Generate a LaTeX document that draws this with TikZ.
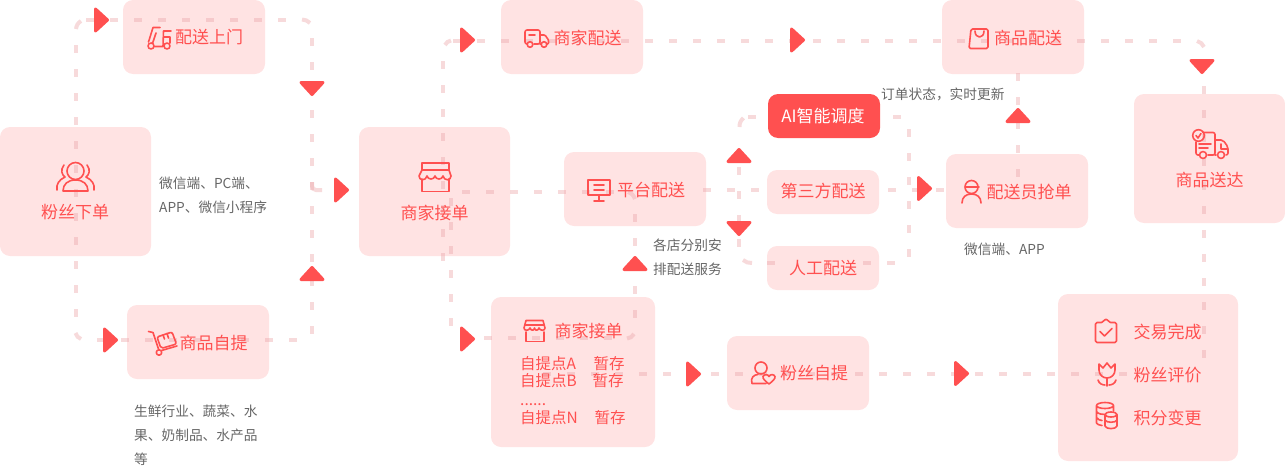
\documentclass[tikz,border=0pt]{standalone}
\usepackage{fontspec}
\setmainfont{Noto Sans CJK SC}
\usetikzlibrary{calc}
\definecolor{rd}{HTML}{FF5050}
\definecolor{bx}{HTML}{FFE3E3}
\definecolor{gy}{HTML}{666666}
\definecolor{dk}{HTML}{ECA9AC}
\tikzset{
 x=1pt,y=-1pt,
 box/.style={fill=bx,rounded corners=10pt,inner sep=0pt},
 aibox/.style={box,fill=rd},
 dl/.style={draw=dk,opacity=.43,line width=4pt,dash pattern=on 8pt off 16pt},
 dc/.style={draw=dk,opacity=.43,line width=4pt},
 lab/.style={text=rd,font=\fontsize{17}{20}\selectfont,inner sep=0pt},
 lab2/.style={text=rd,font=\fontsize{15.5}{18}\selectfont,inner sep=0pt,anchor=west},
 note/.style={text=gy,font=\fontsize{13.7}{24}\selectfont,inner sep=0pt,anchor=west,align=left},
 tip/.style={fill=rd,draw=rd,line width=3pt,line join=round},
 ic/.style={draw=rd,line width=1.6pt,line cap=round,line join=round,fill=none},
}
\newcommand{\tipR}[2]{\path[tip] (#1+1.5,#2-11) -- (#1+13.5,#2) -- (#1+1.5,#2+11) -- cycle;}
\newcommand{\tipU}[2]{\path[tip] (#1-11,#2+14.5) -- (#1,#2+2.5) -- (#1+11,#2+14.5) -- cycle;}
\newcommand{\tipD}[2]{\path[tip] (#1-11,#2+1.5) -- (#1,#2+13.5) -- (#1+11,#2+1.5) -- cycle;}
\newcommand{\boxat}[6]{\node[#1,minimum width=#4pt-#2pt,minimum height=#5pt-#3pt] (#6) at ({(#2+#4)/2},{(#3+#5)/2}) {};}
\begin{document}
\begin{tikzpicture}
\useasboundingbox (0,0) rectangle (1285,466);
% boxes
\boxat{box}{0}{127}{151}{256}{fans}
\boxat{box}{123}{0}{265}{74}{door}
\boxat{box}{127}{305}{269}{379}{pick}
\boxat{box}{359}{127}{510}{256}{shop}
\boxat{box}{501}{0}{643}{74}{shopdel}
\boxat{box}{564}{152}{706}{226}{plat}
\boxat{aibox}{768}{94}{880}{138}{ai}
\boxat{box}{767}{170}{879}{214}{third}
\boxat{box}{767}{246}{879}{290}{manual}
\boxat{box}{491}{297}{655}{447}{shoptwo}
\boxat{box}{727}{336}{869}{410}{fanpick}
\boxat{box}{942}{0}{1084}{74}{goods}
\boxat{box}{946}{154}{1088}{228}{rider}
\boxat{box}{1134}{94}{1285}{223}{done}
\boxat{box}{1058}{294}{1238}{461}{finish}
% connector waypoints
\foreach \n/\a/\b in {a1/76/45,a2/76/317,a3/76/29,a4/81/21,a5/75.5/333,a6/81/339,a7/86/20,a8/286/20,a9/302/19.5,a10/310/23,
 b1/312/38,b2/312/334,b3/312/182,b4/322/190,b5/97/340,b6/297/340,
 c1/443/61,c2/443/261,c3/445/45,c4/451/40.5,c5/453/40.5,c6/1181/40.5,c7/1197/41,c8/1204/47,c9/1204/86,c10/1204/358,
 d1/451/198,d2/451/326,d3/462/192,d4/614/192,d5/628/192,d6/635/199,d7/635/214,d8/635/318,d9/627/338.5,d10/634/334,d11/484/338,d12/612/338,
 e1/703/189.5,e2/759/189.5,e3/888/189.5,e4/944/189.5,e5/739/167,e6/739/247,e7/739.5/127,e8/743.5/118,e9/748/116.5,e10/756/116.5,e11/893/116.5,e12/901/116.5,
 e13/909/129,e14/909/257,e15/743/260,e16/752/263,e17/767/263,e18/775/263,e19/863/263,e20/895/263,
 f1/1018/73,f2/1018/177,f3/543/373.5,f4/1127/373.5}
 {\coordinate (\n) at (\a,\b);}
% dashed connectors
\draw[dl] (a1)--(a2);
\draw[dc] (a3) to[bend left=25] (a4);
\draw[dc] (a5) to[bend right=25] (a6);
\draw[dl] (a7)--(a8);
\draw[dc] (a9) to[bend left=20] (a10);
\draw[dl] (b1)--(b2);
\draw[dc,rounded corners=4pt] (b3)--(b3|-b4)--(b4);
\draw[dl] (b5)--(b6);
\draw[dl] (c1)--(c2);
\draw[dc] (c3) to[bend left=25] (c4);
\draw[dl] (c5)--(c6);
\draw[dc] (c7) to[bend left=25] (c8);
\draw[dl] (c9)--(c10);
\draw[dl] (d1)--(d2);
\draw[dl] (d3)--(d4);
\draw[dc] (d5) to[bend left=25] (d6);
\draw[dl] (d7)--(d8);
\draw[dc] (d9) to[bend right=25] (d10);
\draw[dl] (d11)--(d12);
\draw[dl] (e1)--(e2);
\draw[dl] (e3)--(e4);
\draw[dl] (e5)--(e6);
\draw[dc] (e7) to[bend left=25] (e8);
\draw[dc] (e9)--(e10);
\draw[dc] (e11)--(e12);
\draw[dl] (e13)--(e14);
\draw[dc] (e15) to[bend right=20] (e16);
\draw[dc] (e17)--(e18);
\draw[dl] (e19)--(e20);
\draw[dl] (f1)--(f2);
\draw[dl] (f3)--(f4);
% arrow tips
\tipR{94}{20}\tipR{334}{190}\tipR{103}{340}\tipR{460}{40}\tipR{790}{40}\tipR{460}{339}\tipR{686}{374}\tipR{954}{373.5}\tipR{917}{188.5}
\tipD{312}{81}\tipU{312}{265}\tipU{635}{255}\tipU{739}{147}\tipD{739}{221}\tipU{1018}{107}\tipD{1202}{59}
% icons
% scooter
\draw[ic] (153,27.5)--(160,27.5) (153,27.5)--(148.5,42) (156,33)--(153,42)--(152,43) (154.5,46.5)--(163,46.5)--(163.5,31)--(171,31) (164,37)--(170,37)--(170,43);
\draw[ic] (151,46) circle (3) (167,46) circle (3);
% people
\draw[ic] (75.5,171) circle (8.5);
\draw[ic] (63,191)--(88,191) (63,191) .. controls (63,184) and (68,180) .. (75.5,180) .. controls (83,180) and (88,184) .. (88,191);
\draw[ic] (64,165) .. controls (60,170) and (62,175) .. (65,177) .. controls (59,180) and (56,184) .. (57,190);
\draw[ic] (87,165) .. controls (91,170) and (89,175) .. (86,177) .. controls (92,180) and (95,184) .. (94,190);
% cart
\draw[ic] (148.5,331.5)--(153,332.5)--(158.5,349) (161.5,350.5)--(177,346);
\draw[ic] (159,352.5) circle (2.7);
\draw[ic,rounded corners=2pt] (157,337)--(172,332)--(176.5,344)--(161,348.5)--cycle;
\draw[ic] (163,335)--(164.5,339) (167,333.5)--(168.5,338);
% store
\draw[ic] (422,163)--(449,163)--(449,170)--(422,170)--cycle;
\draw[ic] (422,170)--(419,176) .. controls (419,181) and (426,181) .. (427,176) .. controls (428,180) and (434,180) .. (435,176) .. controls (436,180) and (442,180) .. (443,176) .. controls (444,181) and (451,181) .. (451,176)--(449,170);
\draw[ic] (422,179)--(422,191.5)--(449,191.5)--(449,179);
% truck
\draw[ic,rounded corners=2pt] (527,44)--(525,44)--(525,30)--(540,30)--(540,44)--(534,44);
\draw[ic,rounded corners=1pt] (540,35)--(545,35)--(548.5,40)--(548.5,44)--(547,44) (541,44)--(540,44);
\draw[ic] (530,44.5) circle (2.8) (544,44.5) circle (2.8) (529,35)--(535,35);
% monitor
\draw[ic] (588,180)--(610,180)--(610,195)--(588,195)--cycle (594,185)--(604,185) (594,190)--(604,190) (599,195)--(599,201) (594,201)--(604,201);
% bag
\draw[ic,rounded corners=1.5pt] (971,29)--(988,29)--(988,48.5)--(969,48.5)--cycle;
\draw[ic] (975,31) .. controls (975,39) and (984,39) .. (984,31);
% rider
\draw[ic] (971.5,187) circle (6.5) (965,187)--(979,187);
\draw[ic] (962,203) .. controls (962,197) and (966,194) .. (971.5,194) .. controls (977,194) and (981,197) .. (981,203);
% delivered truck
\draw[ic] (1198.5,135.5) circle (5.8);
\draw[ic] (1196,135.5)--(1198,138)--(1201,133.5);
\draw[ic,rounded corners=2pt] (1203,132.5)--(1215,132.5)--(1215,155)--(1208,155) (1199,155)--(1196,155)--(1196,142);
\draw[ic,rounded corners=2pt] (1215,140)--(1223,140)--(1228,147)--(1228,155)--(1226,155) (1216,155)--(1215,155);
\draw[ic] (1203,155) circle (3.5) (1221,155) circle (3.5) (1199,144)--(1211,144) (1199,148)--(1208,148) (1221,144)--(1221,149)--(1227,149);
% person heart
\draw[ic] (761,368) circle (6);
\draw[ic] (752,383.5) .. controls (750,378) and (754,374.5) .. (758,374.5) (752,383.5)--(766,383.5);
\draw[ic] (769,384) .. controls (765,381) and (762.5,378.5) .. (763,376.5) .. controls (764,374) and (768,374) .. (769,376.5) .. controls (770,374) and (774,374) .. (775,376.5) .. controls (775.5,378.5) and (773,381) .. (769,384);
% clipboard
\draw[ic,rounded corners=1.5pt] (1100,322.5)--(1095.5,322.5)--(1095.5,342.5)--(1116.5,342.5)--(1116.5,322.5)--(1112,322.5)--(1109,322.5)--(1108,319.5)--(1104,319.5)--(1103,322.5)--cycle;
\draw[ic] (1100,331.5)--(1104.5,336)--(1112,328.5);
% tulip
\draw[ic] (1099,364)--(1103,368)--(1107,363)--(1111,368)--(1115,364)--(1115,370) .. controls (1115,375) and (1111,378) .. (1107,378) .. controls (1103,378) and (1099,375) .. (1099,370)--cycle;
\draw[ic] (1107,378)--(1107,386) (1098,380) .. controls (1099,384) and (1103,385) .. (1105,385) (1116,380) .. controls (1115,384) and (1111,385) .. (1109,385);
% coins
\draw[ic] (1105,405.5) ellipse (8.5 and 3) (1096.5,405.5)--(1096.5,423) .. controls (1097,424.5) and (1099,425) .. (1102,425.5) (1096.5,411.5) .. controls (1098,414) and (1102,414.5) .. (1105,414.5) (1096.5,417.5) .. controls (1098,420) and (1100,420) .. (1102,420.5) (1113.5,405.5)--(1113.5,411);
\draw[ic] (1111,414.5) ellipse (6 and 2.5) (1105,414.5)--(1105,426) .. controls (1106,429.5) and (1116,429.5) .. (1117,426)--(1117,414.5) (1105,420) .. controls (1106,423) and (1116,423) .. (1117,420);
% small store
\draw[ic] (526,320.5)--(543,320.5)--(545,328) .. controls (545,331) and (540,331) .. (539,328) .. controls (538,331) and (535,331) .. (534.5,328) .. controls (534,331) and (531,331) .. (530,328) .. controls (529,331) and (524,331) .. (524,328)--cycle (525,325)--(544,325);
\draw[ic] (526,332)--(526,341.5)--(544,341.5)--(544,332);
% labels
\node[lab] (tdoor) at (209,37.5) {配送上门};
\node[lab] (tfans) at (75,212.5) {粉丝下单};
\node[lab] (tpick) at (213.5,343) {商品自提};
\node[lab] (tshop) at (434.5,213) {商家接单};
\node[lab] (tshopdel) at (587.5,38) {商家配送};
\node[lab] (tplat) at (651,190) {平台配送};
\node[lab,text=white] (tai) at (823,115.5) {AI智能调度};
\node[lab] (tthird) at (823,191.5) {第三方配送};
\node[lab] (tmanual) at (823,268) {人工配送};
\node[lab] (trider) at (1029,192) {配送员抢单};
\node[lab] (tgoods) at (1028,38) {商品配送};
\node[lab] (tdone) at (1209.5,180) {商品送达};
\node[lab] (tf1) at (1167.5,332) {交易完成};
\node[lab] (tf2) at (1167.5,375) {粉丝评价};
\node[lab] (tf3) at (1167.5,418) {积分变更};
\node[lab] (tfanpick) at (814,373.5) {粉丝自提};
\node[lab] (ts2) at (588.5,331) {商家接单};
\node[lab2] (p1) at (520,364) {自提点A};
\node[lab2] (p1b) at (593.5,364) {暂存};
\node[lab2] (p2) at (520,381) {自提点B};
\node[lab2] (p2b) at (592.5,381) {暂存};
\node[lab2,anchor=base west] (dots) at (520,405) {......};
\node[lab2] (p3) at (520,418) {自提点N};
\node[lab2] (p3b) at (594.5,418) {暂存};
\node[note] (n1) at (159,195) {微信端、PC端、\\APP、微信小程序};
\node[note] (n2) at (134,435) {生鲜行业、蔬菜、水\\果、奶制品、水产品\\等};
\node[note] (n3) at (653,257) {各店分别安\\排配送服务};
\node[note] (n4) at (881,94) {订单状态，实时更新};
\node[note] (n5) at (964,249) {微信端、APP};
\end{tikzpicture}
\end{document}
